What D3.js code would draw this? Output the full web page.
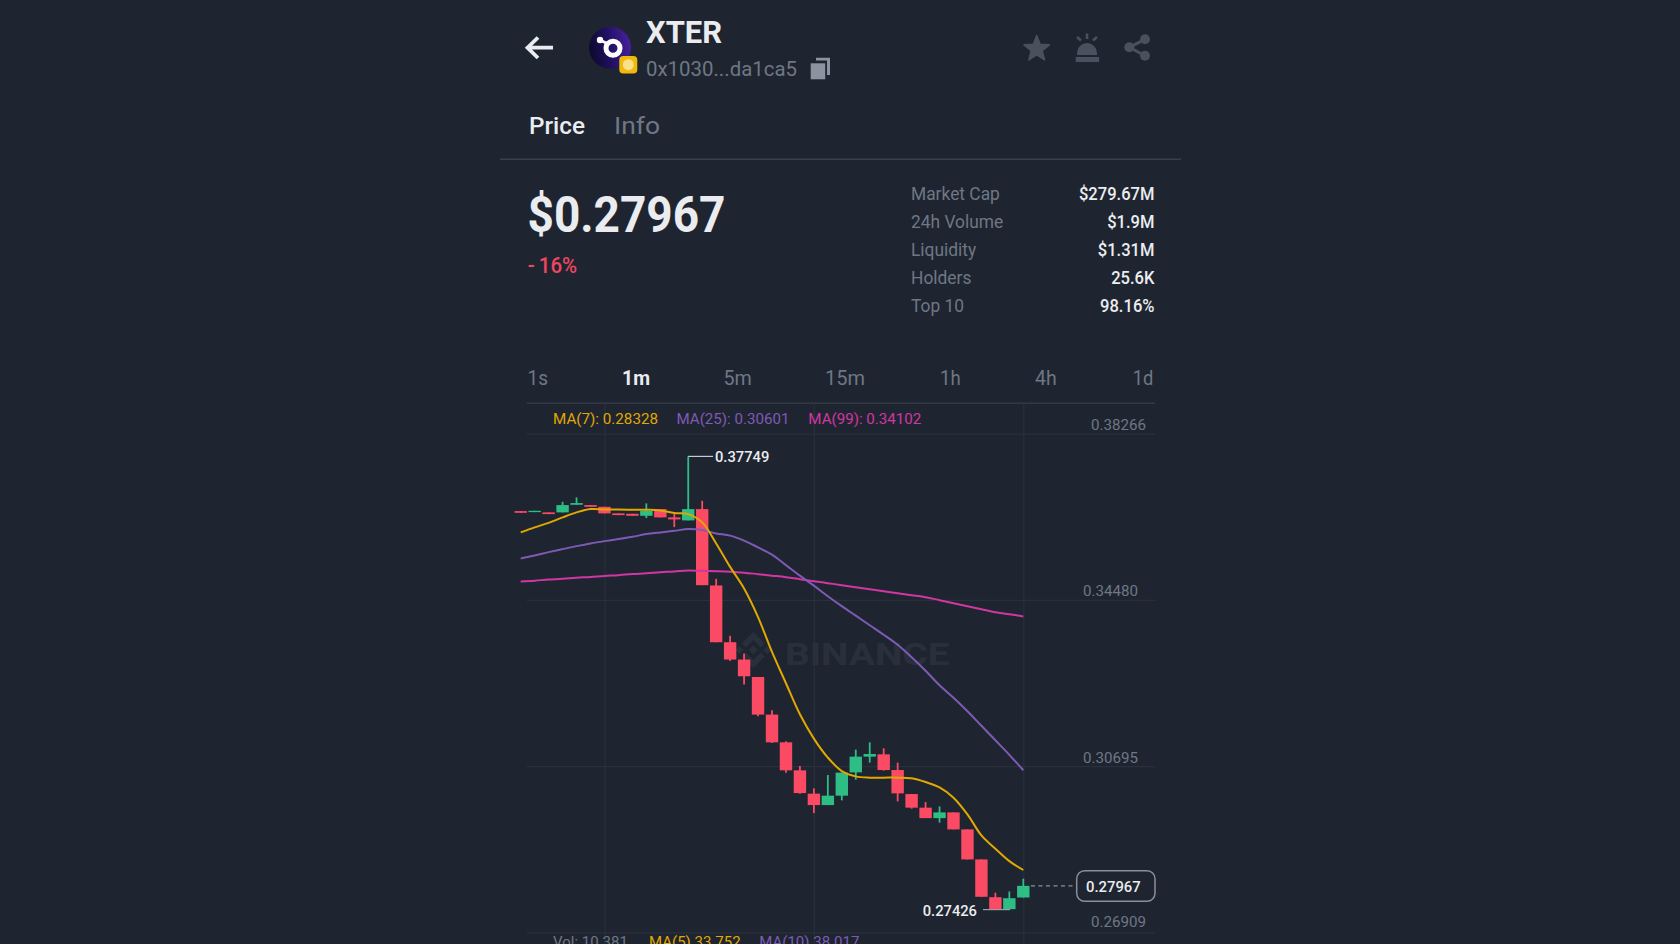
<!DOCTYPE html>
<html><head><meta charset="utf-8">
<script src="https://cdn.jsdelivr.net/npm/d3@7/dist/d3.min.js"></script>
<style>
html,body{margin:0;padding:0;background:#1e2530;overflow:hidden}
svg{display:block}
text{font-family:Roboto,"Noto Sans",sans-serif}
</style></head><body><svg id="c" width="1680" height="944"></svg>
<script>
const yTicks=[0.38266,0.34480,0.30695,0.26909];
const xGridIdx=[6,21,36];
const opens =[.36503,.36480,.36474,.36474,.36647,.36640,.36601,.36451,.36442,.36396,.36549,.36360,.36291,.36549,.34809,.33516,.33122,.32725,.31868,.31236,.30598,.30067,.29807,.30021,.30552,.30910,.30963,.30605,.30058,.29748,.29510,.29640,.29253,.28569,.27709,.27436,.27702];
const closes=[.36464,.36510,.36435,.36640,.36686,.36601,.36451,.36412,.36396,.36510,.36360,.36314,.36549,.34816,.33516,.33122,.32741,.31868,.31236,.30598,.30080,.29807,.30021,.30546,.30910,.30970,.30605,.30074,.29748,.29510,.29640,.29253,.28569,.27718,.27436,.27686,.27967];
const highs =[.36503,.36510,.36474,.36715,.36816,.36640,.36601,.36451,.36442,.36679,.36549,.36435,.37749,.36738,.34960,.33662,.33259,.32725,.31966,.31259,.30696,.30188,.30491,.30546,.31070,.31236,.31100,.30774,.30058,.29875,.29777,.29640,.29253,.28569,.27810,.27839,.28129];
const lows  =[.36464,.36480,.36435,.36474,.36647,.36601,.36451,.36412,.36396,.36344,.36360,.36138,.36291,.34816,.33516,.33090,.32552,.31829,.31220,.30546,.30067,.29624,.29807,.29914,.30386,.30774,.30590,.29891,.29725,.29510,.29406,.29253,.28569,.27718,.27426,.27426,.27702];
const ma7 =[.36018,.36132,.36236,.36360,.36474,.36549,.36542,.36537,.36533,.36533,.36519,.36458,.36435,.36246,.35767,.35233,.34741,.34090,.33295,.32582,.31875,.31321,.30888,.30582,.30461,.30432,.30432,.30432,.30416,.30331,.30210,.29976,.29595,.29116,.28813,.28530,.28328];
const ma25=[.35425,.35493,.35568,.35637,.35705,.35767,.35819,.35865,.35917,.35979,.36018,.36054,.36093,.36070,.35995,.35945,.35831,.35676,.35511,.35272,.35033,.34805,.34565,.34337,.34121,.33904,.33687,.33459,.33174,.32867,.32536,.32251,.31943,.31613,.31282,.30951,.30601];
const ma99=[.34900,.34918,.34944,.34961,.34986,.35002,.35027,.35044,.35069,.35086,.35111,.35128,.35151,.35142,.35135,.35124,.35101,.35067,.35033,.34998,.34953,.34907,.34862,.34816,.34770,.34725,.34679,.34634,.34588,.34542,.34474,.34406,.34337,.34269,.34200,.34155,.34102];
const statLabels=["Market Cap","24h Volume","Liquidity","Holders","Top 10"];
const statValues=["$279.67M","$1.9M","$1.31M","25.6K","98.16%"];
const timeframes=["1s","1m","5m","15m","1h","4h","1d"];
const maLabels=["MA(7): 0.28328","MA(25): 0.30601","MA(99): 0.34102"];
const volLabels=["Vol: 10.381","MA(5) 33.752","MA(10) 38.017"];
const highLabel=0.37749, lowLabel=0.27426, lastLabel=0.27967;

const BG="#1e2530",GRID="#2a303b",GREEN="#2ebd85",RED="#fb4a64",YEL="#e0a800",PUR="#7e5ab5",MAG="#d236a4",GRAY="#6f7785",WHITE="#eaecef";
const svg=d3.select("#c");
svg.append("rect").attr("width",1680).attr("height",944).attr("fill",BG);
const x=d3.scaleLinear().domain([0,36]).range([520.7,1023.3]);
const y=d3.scaleLinear().domain([0.26909,0.38266]).range([932.3,433.7]);

function T(px,py,s,size,weight,fill,anchor,len){
  const t=svg.append("text").attr("x",px).attr("y",py).attr("font-size",size).attr("font-weight",weight).attr("fill",fill).attr("text-anchor",anchor||"start").text(s);
  if(len)t.attr("textLength",len).attr("lengthAdjust","spacingAndGlyphs");
  return t;
}
function squeeze(t,k){t.attr("textLength",t.node().getComputedTextLength()*k).attr("lengthAdjust","spacingAndGlyphs");return t;}

// header
const arrow=svg.append("g").attr("fill","none").attr("stroke",WHITE).attr("stroke-width",3.8);
arrow.append("path").attr("d","M553 47.7H528M538 37.5L527.5 47.7L538 58");
const defs=svg.append("defs");
const g=defs.append("linearGradient").attr("id","lg").attr("x1",0).attr("x2",1).attr("y1",.5).attr("y2",.3);
g.append("stop").attr("offset",0).attr("stop-color","#0d0a2c");
g.append("stop").attr("offset",.45).attr("stop-color","#1f1060");
g.append("stop").attr("offset",1).attr("stop-color","#4a1fa0");
svg.append("circle").attr("cx",610).attr("cy",47.7).attr("r",21).attr("fill","url(#lg)");
svg.append("circle").attr("cx",613).attr("cy",48.3).attr("r",7).attr("fill","none").attr("stroke","#fff").attr("stroke-width",5);
svg.append("path").attr("d","M600 40L608 44").attr("stroke","#fff").attr("stroke-width",3);
svg.append("circle").attr("cx",600).attr("cy",40).attr("r",3.2).attr("fill","#fff");
svg.append("rect").attr("x",619.3).attr("y",56).attr("width",18).attr("height",17.5).attr("rx",4).attr("fill","#f0b90b");
svg.append("circle").attr("cx",628.3).attr("cy",64.7).attr("r",5.5).attr("fill","#fbe08a");
T(646,43,"XTER",30.5,700,WHITE,"start",76);
T(646,76,"0x1030...da1ca5",20.5,400,GRAY,"start",151);
svg.append("path").attr("d","M816 57.7H830V75H827V60.5H816Z").attr("fill","#8b93a0");
svg.append("rect").attr("x",810.7).attr("y",63.3).attr("width",14.5).attr("height",16).attr("fill","#8b93a0");
const ICON="#4a515e";
const star=d3.range(10).map(i=>{const r=i%2?5.8:13.4,a=-Math.PI/2+i*Math.PI/5;return [1036.7+r*Math.cos(a),49+r*Math.sin(a)];});
svg.append("path").attr("d",d3.line().curve(d3.curveLinearClosed)(star)).attr("fill",ICON).attr("stroke",ICON).attr("stroke-width",1.5).attr("stroke-linejoin","round");
svg.append("path").attr("d","M1077 55V53A10 10 0 0 1 1097 53V55Z").attr("fill",ICON);
svg.append("rect").attr("x",1075.7).attr("y",57).attr("width",23.4).attr("height",5).attr("fill",ICON);
svg.append("path").attr("d","M1087 33.5V39M1077 37L1081 40.5M1097 37L1093 40.5").attr("stroke",ICON).attr("stroke-width",2.6).attr("fill","none");
svg.append("path").attr("d","M1145 39.3L1129.3 47.3L1145 55.7").attr("stroke",ICON).attr("stroke-width",3).attr("fill","none");
[[1145,39.3],[1145,55.7],[1129.3,47.3]].forEach(p=>svg.append("circle").attr("cx",p[0]).attr("cy",p[1]).attr("r",5).attr("fill",ICON));

T(529,134,"Price",24,500,WHITE,"start",56);
T(614,134,"Info",24,400,GRAY,"start",46);
svg.append("line").attr("x1",500).attr("x2",1181).attr("y1",159.3).attr("y2",159.3).attr("stroke","#3a404b").attr("stroke-width",1.5);
T(527.5,231.5,"$0.27967",50,700,WHITE,"start",198);
T(527.7,272.7,"-\u200916%",22.5,500,"#ee4560","start",49.5);
statLabels.forEach((s,i)=>{
  squeeze(T(911,200+28*i,s,18,400,GRAY),0.965);
  squeeze(T(1154.5,200+28*i,statValues[i],18,500,WHITE,"end"),0.92);
});

// timeframes
const tfX=[527.5,622,723.5,825,940,1035,1132.7],tfW=[20.5,28,28.3,40,20.7,21.7,20.6];
timeframes.forEach((s,i)=>T(tfX[i],385,s,20,i==1?700:400,i==1?WHITE:GRAY,"start",tfW[i]));

// grid + axes
svg.append("line").attr("x1",526.7).attr("x2",1155).attr("y1",403.3).attr("y2",403.3).attr("stroke","#333945").attr("stroke-width",1.4);
const gx=svg.append("g").attr("transform","translate(0,403.3)")
  .call(d3.axisBottom(x).tickValues(xGridIdx).tickSize(541).tickFormat(""));
gx.select(".domain").remove();
gx.selectAll("line").attr("stroke",GRID).attr("stroke-width",1.2);
const gy=svg.append("g").attr("transform","translate(1155,0)")
  .call(d3.axisLeft(y).tickValues(yTicks).tickSize(628.3).tickFormat(d3.format(".5f")));
gy.select(".domain").remove();
gy.selectAll("line").attr("stroke",GRID).attr("stroke-width",1.2);
gy.selectAll("text").attr("text-anchor","end").attr("font-size",15).attr("fill",GRAY)
  .attr("font-family","Roboto").attr("dy",null)
  .attr("x",(d,i)=>(i==0||i==3)?-9:-17).attr("y",(d,i)=>i==3?-6:-4).attr("textLength",55).attr("lengthAdjust","spacingAndGlyphs");

// watermark
const wm=svg.append("g").attr("fill","#2a303b").attr("transform","translate(753.3,650)");
wm.append("path").attr("d","M0 -18L11.5 -6.5L7.5 -2.5L0 -10L-7.5 -2.5L-11.5 -6.5ZM0 18L11.5 6.5L7.5 2.5L0 10L-7.5 2.5L-11.5 6.5ZM-14 -4L-10 0L-14 4L-18 0ZM14 -4L18 0L14 4L10 0ZM0 -4.5L4.5 0L0 4.5L-4.5 0Z");
T(785,665,"BINANCE",31,700,"#2a303b","start",164.5);

// legends
[[553,105,YEL],[676.5,113,PUR],[808.3,113,MAG]].forEach((a,i)=>T(a[0],423.8,maLabels[i],15,400,a[2],"start",a[1]));
[[553,GRAY],[649,YEL],[759.3,PUR]].forEach((a,i)=>T(a[0],947.4,volLabels[i],15,400,a[1]));

// candles
const data=opens.map((o,i)=>({i,o,c:closes[i],h:highs[i],l:lows[i]}));
const col=d=>d.c>=d.o?GREEN:RED;
const cg=svg.append("g");
cg.selectAll("line.w").data(data).join("line").attr("class","w")
  .attr("x1",d=>x(d.i)).attr("x2",d=>x(d.i)).attr("y1",d=>y(d.h)).attr("y2",d=>y(d.l))
  .attr("stroke",col).attr("stroke-width",1.8);
cg.selectAll("rect").data(data).join("rect")
  .attr("x",d=>x(d.i)-6.2).attr("width",12.4)
  .attr("y",d=>y(Math.max(d.o,d.c))).attr("height",d=>Math.abs(y(d.o)-y(d.c)))
  .attr("fill",col);

// moving averages
const line=d3.line().x((d,i)=>x(i)).y(d=>y(d)).curve(d3.curveCatmullRom.alpha(.5));
[[ma99,MAG],[ma25,PUR],[ma7,YEL]].forEach(a=>svg.append("path").attr("d",line(a[0])).attr("fill","none").attr("stroke",a[1]).attr("stroke-width",2));

// annotations
const fmt=d3.format(".5f");
svg.append("path").attr("d",`M${x(12)} ${y(highLabel)}H713`).attr("stroke","#c8ccd2").attr("stroke-width",1.2).attr("fill","none");
T(715,461.9,fmt(highLabel),15.5,500,WHITE,"start",54.3);
svg.append("line").attr("x1",983).attr("x2",1010).attr("y1",y(lowLabel)).attr("y2",y(lowLabel)).attr("stroke","#9aa0a8").attr("stroke-width",1.2);
T(922.7,915.5,fmt(lowLabel),15.5,500,WHITE,"start",54.3);
svg.append("line").attr("x1",1031).attr("x2",1076).attr("y1",y(lastLabel)).attr("y2",y(lastLabel)).attr("stroke","#8a8f98").attr("stroke-width",1.2).attr("stroke-dasharray","4 3.5");
svg.append("rect").attr("x",1076.7).attr("y",870.7).attr("width",78.3).attr("height",30.6).attr("rx",8).attr("fill",BG).attr("stroke","#8a8f98").attr("stroke-width",1.5);
T(1086,892.3,fmt(lastLabel),15.5,500,WHITE,"start",54.7);
</script></body></html>
